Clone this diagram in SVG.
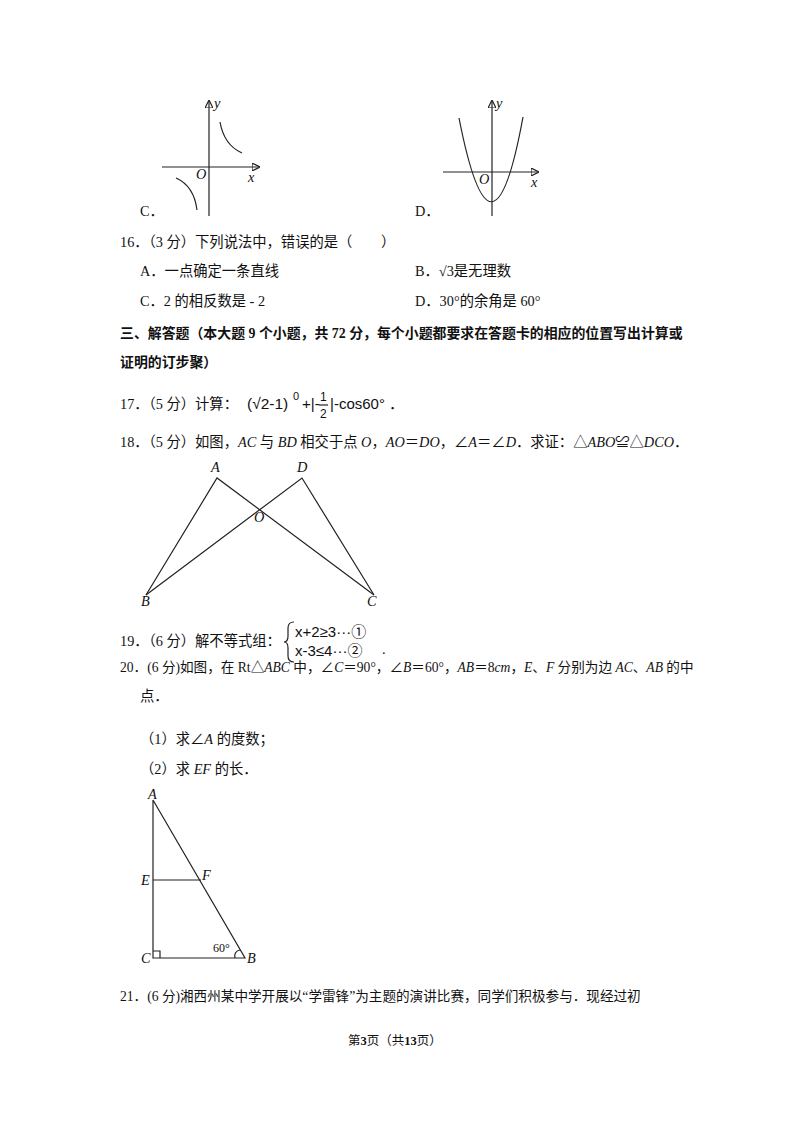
<svg xmlns="http://www.w3.org/2000/svg" width="800" height="1132" viewBox="0 0 800 1132">
<style>
text{font-family:"Liberation Serif","Noto Sans CJK SC",serif;font-size:14.3px;fill:#111}
.i{font-style:italic}
.b{font-weight:bold}
.s{font-family:"Liberation Sans","Noto Sans CJK SC",sans-serif}
line,path,polyline{stroke:#222;stroke-width:1.2;fill:none}
</style>
<defs><marker id="ar" markerWidth="8" markerHeight="8" refX="7" refY="4" orient="auto" markerUnits="userSpaceOnUse"><path d="M0,0 L8,4 L0,8 Z" fill="#111" stroke="none"/></marker></defs>
<rect width="800" height="1132" fill="#fff"/>
<g id="graphC">
<line x1="209" y1="216" x2="209" y2="101" marker-end="url(#ar)"/>
<line x1="162" y1="167" x2="259" y2="167" marker-end="url(#ar)"/>
<path d="M220,122 Q224,145 242,153"/>
<path d="M176,178 Q194,186 197,210"/>
<text x="214" y="108" class="i">y</text><text x="196" y="179" class="i">O</text><text x="248" y="182" class="i">x</text>
<text x="140" y="216">C．</text>
</g>
<g id="graphD">
<line x1="492" y1="216" x2="492" y2="101" marker-end="url(#ar)"/>
<line x1="443" y1="172" x2="538" y2="172" marker-end="url(#ar)"/>
<path d="M459,118 Q492,286 523,117"/>
<text x="496" y="108" class="i">y</text><text x="479" y="184" class="i">O</text><text x="531" y="187" class="i">x</text>
<text x="415" y="216">D．</text>
</g>
<text x="120" y="247">16．（3 分）下列说法中，错误的是（　　）</text>
<text x="140" y="276">A．一点确定一条直线</text>
<text x="415" y="276">B．√3是无理数</text>
<text x="140" y="306">C．2 的相反数是 - 2</text>
<text x="415" y="306">D．30°的余角是 60°</text>
<text x="120" y="338" class="b" style="font-size:13.9px">三、解答题（本大题 9 个小题，共 72 分，每个小题都要求在答题卡的相应的位置写出计算或</text>
<text x="120" y="367" class="b" style="font-size:13.9px">证明的订步聚）</text>
<text x="120" y="409">17．（5 分）计算：</text>
<text x="247" y="409" class="s" style="font-size:15.5px">(√2-1)</text><text x="293" y="400" class="s" style="font-size:11px">0</text>
<text x="302" y="409" class="s" style="font-size:15px">+|-</text><text x="320" y="401" class="s" style="font-size:12px">1</text><line x1="319" y1="405" x2="328" y2="405" stroke-width="0.8"/><text x="320" y="418" class="s" style="font-size:12px">2</text>
<text x="330" y="409" class="s" style="font-size:15px">|-cos60° ．</text>
<text x="120" y="447">18．（5 分）如图，<tspan class="i">AC</tspan> 与 <tspan class="i">BD</tspan> 相交于点 <tspan class="i">O</tspan>，<tspan class="i">AO</tspan>＝<tspan class="i">DO</tspan>，∠<tspan class="i">A</tspan>＝∠<tspan class="i">D</tspan>．求证：△<tspan class="i">ABO</tspan>≌△<tspan class="i">DCO</tspan>．</text>
<g id="fig18">
<polyline points="146,595 217,478 374,595"/>
<polyline points="146,595 302,478 374,595"/>
<text x="211" y="472" class="i">A</text><text x="297" y="472" class="i">D</text><text x="254" y="522" class="i">O</text><text x="141" y="606" class="i">B</text><text x="367" y="606" class="i">C</text>
</g>
<text x="120" y="646">19．（6 分）解不等式组：</text>
<path d="M294,622 Q288,622 288,628 L288,636 Q288,642 284,642 Q288,642 288,648 L288,656 Q288,662 294,662" stroke-width="1"/>
<text x="295" y="637" class="s" style="font-size:15px">x+2≥3···①</text>
<text x="295" y="656" class="s" style="font-size:15px">x-3≤4···②</text>
<text x="382" y="654">.</text>
<text x="120" y="672" style="font-size:13.6px">20．(6 分)如图，在 Rt△<tspan class="i">ABC</tspan> 中，∠<tspan class="i">C</tspan>＝90°，∠<tspan class="i">B</tspan>＝60°，<tspan class="i">AB</tspan>＝8<tspan class="i">cm</tspan>，<tspan class="i">E</tspan>、<tspan class="i">F</tspan> 分别为边 <tspan class="i">AC</tspan>、<tspan class="i">AB</tspan> 的中</text>
<text x="140" y="701">点．</text>
<text x="140" y="744">（1）求∠<tspan class="i">A</tspan> 的度数；</text>
<text x="140" y="774">（2）求 <tspan class="i">EF</tspan> 的长．</text>
<g id="fig20">
<polyline points="153,800 153,958 245,958 153,800"/>
<line x1="153" y1="880" x2="201" y2="880"/>
<polyline points="153,951 160,951 160,958"/>
<path d="M235,958 A6,6 0 0 1 240,950"/>
<text x="148" y="799" class="i">A</text><text x="141" y="885" class="i">E</text><text x="202" y="880" class="i">F</text><text x="141" y="963" class="i">C</text><text x="247" y="963" class="i">B</text>
<text x="213" y="952" style="font-size:12px">60°</text>
</g>
<text x="120" y="1001" style="font-size:13.6px">21．(6 分)湘西州某中学开展以“学雷锋”为主题的演讲比赛，同学们积极参与．现经过初</text>
<text x="348" y="1045" style="font-size:12.5px">第<tspan class="b">3</tspan>页（共<tspan class="b">13</tspan>页）</text>
</svg>
